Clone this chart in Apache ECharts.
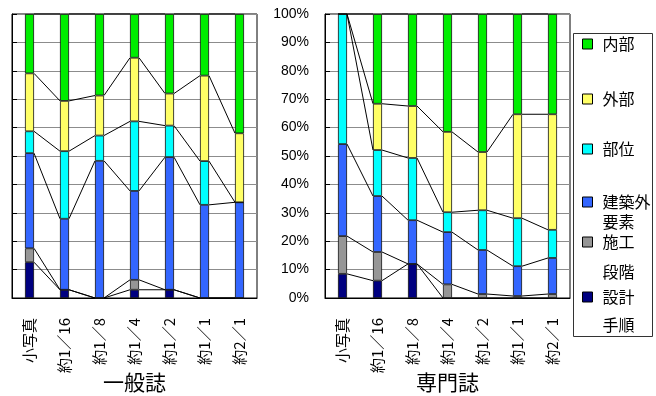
<!DOCTYPE html>
<html>
<head>
<meta charset="utf-8">
<script src="https://cdn.jsdelivr.net/npm/echarts@6/dist/echarts.min.js"></script>
<style>
  html, body { margin: 0; padding: 0; background: #fff; }
  #chart { width: 656px; height: 396px; }
</style>
</head>
<body>
<div id="chart"></div>
<script>
// Image-size categories shared by both panels
const categories = ['小写真', '約1／16', '約1／8', '約1／4', '約1／2', '約1／1', '約2／1'];
// Stack order, bottom to top
const seriesNames = ['設計手順', '施工段階', '建築外要素', '部位', '外部', '内部'];
const yTicks = [0, 10, 20, 30, 40, 50, 60, 70, 80, 90, 100];

// 一般誌 (share of photos, %)
const generalDesign       = [12.6, 2.9, 0, 2.9, 2.9, 0, 0];
const generalConstruction = [4.9, 0, 0, 3.5, 0, 0, 0];
const generalNonArch      = [33.5, 25.0, 48.3, 31.3, 46.7, 32.8, 33.7];
const generalPart         = [7.7, 23.8, 8.9, 24.5, 11.1, 15.4, 0];
const generalExterior     = [20.4, 17.7, 14.1, 22.4, 11.3, 30.1, 24.3];
const generalInterior     = [20.9, 30.6, 28.7, 15.4, 28.0, 21.7, 42.0];

// 専門誌 (share of photos, %)
const proDesign       = [8.5, 6.1, 12.0, 0, 0, 0, 0];
const proConstruction = [13.3, 10.1, 0, 4.8, 1.4, 0.7, 1.4];
const proNonArch      = [32.4, 19.7, 15.4, 18.4, 15.5, 10.5, 12.7];
const proPart         = [45.8, 16.2, 21.9, 7.0, 14.0, 16.9, 9.9];
const proExterior     = [0, 16.3, 18.3, 28.3, 20.5, 36.6, 40.7];
const proInterior     = [0, 31.6, 32.4, 41.5, 48.6, 35.3, 35.3];

const generalData = [generalDesign, generalConstruction, generalNonArch, generalPart, generalExterior, generalInterior];
const proData = [proDesign, proConstruction, proNonArch, proPart, proExterior, proInterior];

const colors = ['#000080', '#969696', '#3366ff', '#00ffff', '#ffff66', '#00ee00'];
const BAR_W = 9;
const JP = '"Noto Sans CJK JP", "Noto Sans", sans-serif';
const LAT = '"Liberation Sans", Arial, sans-serif';

// running totals per stack level, used for the connecting series lines
function cumulative(data) {
  const out = [];
  let run = categories.map(() => 0);
  data.forEach(arr => {
    run = run.map((v, i) => v + arr[i]);
    out.push(run.slice());
  });
  return out;
}

function seriesLines(cums) {
  return function (params, api) {
    const i = api.value(0);
    const half = BAR_W / 2;
    const children = cums.map(level => {
      const a = api.coord([i, level[i]]);
      const b = api.coord([i + 1, level[i + 1]]);
      return {
        type: 'line',
        shape: { x1: a[0] + half, y1: a[1], x2: b[0] - half, y2: b[1] },
        style: { stroke: '#000', lineWidth: 1 }
      };
    });
    return { type: 'group', children };
  };
}

const gaps = categories.slice(0, -1).map((c, i) => [i, 0]);

function makeBars(data, stack, axisIdx) {
  return data.map((arr, k) => ({
    name: seriesNames[k],
    type: 'bar',
    stack,
    xAxisIndex: axisIdx,
    yAxisIndex: axisIdx,
    barWidth: BAR_W,
    data: arr,
    itemStyle: { color: colors[k], borderColor: '#111', borderWidth: 0.8 },
    emphasis: { disabled: true },
    animation: false
  }));
}

function xAxisFor(idx, title) {
  return {
    type: 'category',
    gridIndex: idx,
    data: categories,
    name: title,
    nameLocation: 'middle',
    nameGap: 74,
    nameMoveOverlap: false,
    nameTextStyle: { fontFamily: JP, fontSize: 21, color: '#000' },
    axisLine: { lineStyle: { color: '#000', width: 1 } },
    axisTick: { inside: true, length: 5, lineStyle: { color: '#666' } },
    axisLabel: { rotate: 90, margin: 20, fontFamily: JP, fontSize: 15, color: '#000' },
    splitLine: { show: false }
  };
}

function yAxisFor(idx, showLabels) {
  return {
    type: 'value',
    gridIndex: idx,
    min: yTicks[0],
    max: yTicks[yTicks.length - 1],
    interval: yTicks[1] - yTicks[0],
    axisLine: { show: true, lineStyle: { color: '#000', width: 1 } },
    axisTick: { show: true, inside: true, length: 5, lineStyle: { color: '#000' } },
    axisLabel: { show: showLabels, formatter: '{value}%', margin: 16, fontFamily: LAT, fontSize: 14, color: '#000' },
    splitLine: { show: true, lineStyle: { color: '#8c8c8c', width: 1 } }
  };
}

// legend entries: first-line centre y and line height; two-line names get an
// empty leading line so the swatch sits beside the first line
const legendText = { '建築外要素': '\n建築外\n要素', '施工段階': '\n施工\n段階', '設計手順': '\n設計\n手順' };
const legendRows = [
  { name: '内部', c: 44, lh: 20 },
  { name: '外部', c: 99, lh: 20 },
  { name: '部位', c: 149, lh: 20 },
  { name: '建築外要素', c: 202, lh: 20 },
  { name: '施工段階', c: 242, lh: 30 },
  { name: '設計手順', c: 297, lh: 28 }
];
const legends = legendRows.map(r => {
  const twoLine = !!legendText[r.name];
  return {
    data: [r.name],
    orient: 'vertical',
    left: 582,
    top: twoLine ? r.c - 1.5 * r.lh : r.c - r.lh / 2,
    padding: 0,
    itemWidth: 10,
    itemHeight: 10,
    icon: 'rect',
    itemStyle: { borderColor: '#000', borderWidth: 1 },
    formatter: n => legendText[n] || n,
    textStyle: {
      fontFamily: JP, fontSize: 16, color: '#000', lineHeight: r.lh,
      padding: [0, 0, 0, 5]
    },
    selectedMode: false
  };
});

const chart = echarts.init(document.getElementById('chart'), null, { renderer: 'canvas' });
chart.setOption({
  backgroundColor: '#fff',
  animation: false,
  grid: [
    { left: 12, top: 14, width: 245, height: 284, show: true, borderColor: '#000', borderWidth: 1, containLabel: false, outerBoundsMode: 'none' },
    { left: 325, top: 14, width: 245, height: 284, show: true, borderColor: '#000', borderWidth: 1, containLabel: false, outerBoundsMode: 'none' }
  ],
  xAxis: [xAxisFor(0, '一般誌'), xAxisFor(1, '専門誌')],
  yAxis: [yAxisFor(0, false), yAxisFor(1, true)],
  legend: legends,
  graphic: [{
    type: 'rect',
    shape: { x: 573.5, y: 33.5, width: 79, height: 303 },
    style: { fill: '#fff', stroke: '#333', lineWidth: 1 },
    z: 0
  }],
  series: [
    ...makeBars(generalData, 'general', 0),
    ...makeBars(proData, 'pro', 1),
    {
      type: 'custom', xAxisIndex: 0, yAxisIndex: 0, silent: true, z: 5,
      renderItem: seriesLines(cumulative(generalData)),
      encode: { x: 0, y: 1 }, data: gaps, clip: false
    },
    {
      type: 'custom', xAxisIndex: 1, yAxisIndex: 1, silent: true, z: 5,
      renderItem: seriesLines(cumulative(proData)),
      encode: { x: 0, y: 1 }, data: gaps, clip: false
    }
  ]
});
</script>
</body>
</html>
